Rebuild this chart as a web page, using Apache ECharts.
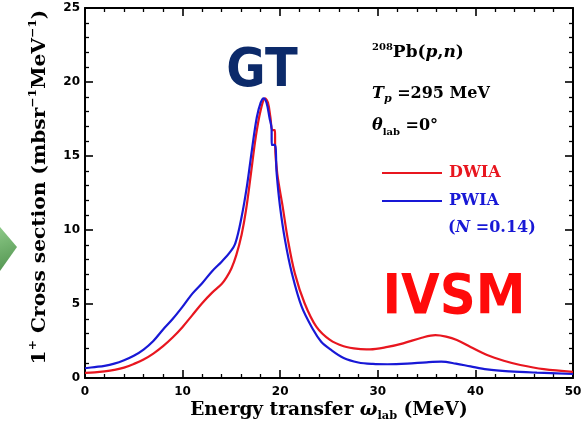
<!DOCTYPE html>
<html>
<head>
<meta charset="utf-8">
<script src="https://cdn.jsdelivr.net/npm/echarts@6/dist/echarts.min.js"></script>
<style>
  html, body { margin: 0; padding: 0; background: #ffffff; }
  #chart { width: 588px; height: 428px; }
</style>
</head>
<body>
<div id="chart"></div>
<script>
// 208Pb(p,n) 1+ cross section vs. energy transfer, DWIA vs. PWIA
const dwiaEnergy = [0, 1, 2, 3, 4, 5, 6, 7, 8, 9, 10, 11, 12, 13, 14, 14.5, 15, 15.5, 16.05, 16.5, 17.0, 17.5, 18.0, 18.45, 18.75, 19.0, 19.2, 19.47, 19.48, 19.7, 20.25, 20.8, 21.5, 22.5, 23.7, 25.1, 26.5, 28, 29.2, 31, 32.6, 34.5, 35.9, 37, 38.1, 39.5, 41.2, 43, 44.6, 47, 50];
const dwiaValue  = [0.34, 0.38, 0.45, 0.55, 0.7, 0.95, 1.25, 1.65, 2.15, 2.75, 3.45, 4.25, 5.05, 5.75, 6.35, 6.8, 7.4, 8.3, 9.7, 11.35, 13.8, 16.3, 18.1, 18.9, 18.6, 17.6, 16.75, 16.75, 15.7, 13.8, 11.6, 9.3, 7.07, 5.05, 3.47, 2.57, 2.15, 1.97, 1.94, 2.1, 2.34, 2.72, 2.9, 2.8, 2.57, 2.1, 1.55, 1.15, 0.88, 0.6, 0.42];

const pwiaEnergy = [0, 1, 2, 3, 4, 5, 6, 7, 8, 9, 10, 11, 12, 13, 14, 14.8, 15.4, 16.05, 16.6, 17.1, 17.6, 18.0, 18.3, 18.6, 18.9, 19.12, 19.13, 19.45, 19.64, 19.98, 20.5, 21.2, 22.2, 23.4, 24.2, 25.1, 26.5, 28, 29.5, 31, 33, 35, 36.5, 38, 39.5, 41.2, 43.5, 46.3, 50];
const pwiaValue  = [0.66, 0.74, 0.82, 0.97, 1.2, 1.5, 1.92, 2.5, 3.28, 4.0, 4.82, 5.7, 6.4, 7.2, 7.86, 8.45, 9.1, 10.9, 13.0, 15.4, 17.6, 18.6, 18.9, 18.6, 17.6, 16.8, 15.75, 15.75, 13.8, 11.6, 9.3, 7.07, 4.82, 3.24, 2.45, 1.95, 1.35, 1.05, 0.95, 0.93, 0.97, 1.06, 1.1, 0.97, 0.78, 0.58, 0.45, 0.36, 0.27];

const xTicks = [0, 10, 20, 30, 40, 50];
const yTicks = [0, 5, 10, 15, 20, 25];
const seriesNames = ['DWIA', 'PWIA'];
const seriesColors = ['#e8161f', '#1818d6'];

const zip = (xs, ys) => xs.map((x, i) => [x, ys[i]]);

const chart = echarts.init(document.getElementById('chart'), null, { renderer: 'canvas' });

const serif = '"DejaVu Serif", serif';
const sans = '"DejaVu Sans", sans-serif';

const frameAxis = (extra) => Object.assign({
  axisLine: { show: true, onZero: false, lineStyle: { color: '#000', width: 2 } },
  axisTick: { show: true, inside: true, length: 8, lineStyle: { color: '#000', width: 1.6 } },
  minorTick: { show: true, splitNumber: 5, length: 4, lineStyle: { color: '#000', width: 1.3 } },
  splitLine: { show: false },
  minorSplitLine: { show: false }
}, extra);

const option = {
  backgroundColor: '#ffffff',
  animation: false,
  grid: { left: 85, right: 15, top: 8, bottom: 50, containLabel: false },
  xAxis: [
    frameAxis({
      type: 'value', position: 'bottom', min: xTicks[0], max: xTicks[xTicks.length - 1], interval: 10,
      axisLabel: { show: true, margin: 8, color: '#000', fontFamily: sans, fontWeight: 'bold', fontSize: 12 }
    }),
    frameAxis({
      type: 'value', position: 'top', min: xTicks[0], max: xTicks[xTicks.length - 1], interval: 10,
      axisLabel: { show: false }
    })
  ],
  yAxis: [
    frameAxis({
      type: 'value', position: 'left', min: yTicks[0], max: yTicks[yTicks.length - 1], interval: 5,
      axisLabel: { show: true, margin: 5, color: '#000', fontFamily: sans, fontWeight: 'bold', fontSize: 12 }
    }),
    frameAxis({
      type: 'value', position: 'right', min: yTicks[0], max: yTicks[yTicks.length - 1], interval: 5,
      axisLabel: { show: false }
    })
  ],
  legend: {
    orient: 'vertical',
    left: 377,
    top: 159,
    itemWidth: 60,
    itemHeight: 2,
    itemGap: 10,
    icon: 'rect',
    textStyle: { fontFamily: serif, fontWeight: 'bold', fontSize: 16, lineHeight: 18, padding: [0, 0, 0, 2] },
    data: [
      { name: seriesNames[0], textStyle: { color: seriesColors[0] } },
      { name: seriesNames[1], textStyle: { color: seriesColors[1] } }
    ]
  },
  series: [
    {
      name: seriesNames[0], type: 'line', xAxisIndex: 0, yAxisIndex: 0,
      data: zip(dwiaEnergy, dwiaValue), showSymbol: false, symbol: 'none',
      smooth: 0.35,
      lineStyle: { color: seriesColors[0], width: 2.2 }, itemStyle: { color: seriesColors[0] }
    },
    {
      name: seriesNames[1], type: 'line', xAxisIndex: 0, yAxisIndex: 0,
      data: zip(pwiaEnergy, pwiaValue), showSymbol: false, symbol: 'none',
      smooth: 0.35,
      lineStyle: { color: seriesColors[1], width: 2.2 }, itemStyle: { color: seriesColors[1] }
    }
  ],
  graphic: [
    // green arrow tip at the left edge
    {
      type: 'polygon', z: 1,
      shape: { points: [[0, 227], [17, 247], [0, 271]] },
      style: {
        fill: new echarts.graphic.LinearGradient(0, 0, 1, 1, [
          { offset: 0, color: '#8cc987' }, { offset: 1, color: '#4f914d' }
        ])
      }
    },
    // y-axis title
    {
      type: 'text', x: 40, y: 187, rotation: Math.PI / 2, scaleX: 1.12,
      style: {
        text: '{m|1}{p|+}{m| Cross section (mbsr}{p|−1}{m|MeV}{p|−1}{m|)}',
        align: 'center', verticalAlign: 'middle', fill: '#000',
        rich: {
          m: { fontFamily: serif, fontWeight: 'bold', fontSize: 18, lineHeight: 24, fill: '#000' },
          p: { fontFamily: serif, fontWeight: 'bold', fontSize: 11, verticalAlign: 'top', fill: '#000' }
        }
      }
    },
    // x-axis title
    {
      type: 'text', x: 329, y: 410, scaleX: 1.03,
      style: {
        text: '{m|Energy transfer }{i|ω}{s|lab}{m| (MeV)}',
        align: 'center', verticalAlign: 'middle', fill: '#000',
        rich: {
          m: { fontFamily: serif, fontWeight: 'bold', fontSize: 18, lineHeight: 24, fill: '#000' },
          i: { fontFamily: serif, fontWeight: 'bold', fontStyle: 'italic', fontSize: 18, lineHeight: 24, fill: '#000' },
          s: { fontFamily: serif, fontWeight: 'bold', fontSize: 11, verticalAlign: 'bottom', fill: '#000' }
        }
      }
    },
    // reaction / kinematics annotations
    {
      type: 'text', x: 372, y: 53,
      style: {
        text: '{p|208}{m|Pb(}{i|p}{m|,}{i|n}{m|)}',
        align: 'left', verticalAlign: 'middle',
        rich: {
          m: { fontFamily: serif, fontWeight: 'bold', fontSize: 17, lineHeight: 22, fill: '#000' },
          i: { fontFamily: serif, fontWeight: 'bold', fontStyle: 'italic', fontSize: 17, lineHeight: 22, fill: '#000' },
          p: { fontFamily: serif, fontWeight: 'bold', fontSize: 10, verticalAlign: 'top', fill: '#000' }
        }
      }
    },
    {
      type: 'text', x: 372, y: 94,
      style: {
        text: '{i|T}{s|p}{m| =295 MeV}',
        align: 'left', verticalAlign: 'middle',
        rich: {
          m: { fontFamily: serif, fontWeight: 'bold', fontSize: 16, lineHeight: 22, fill: '#000' },
          i: { fontFamily: serif, fontWeight: 'bold', fontStyle: 'italic', fontSize: 16, lineHeight: 22, fill: '#000' },
          s: { fontFamily: serif, fontWeight: 'bold', fontStyle: 'italic', fontSize: 11, verticalAlign: 'bottom', fill: '#000' }
        }
      }
    },
    {
      type: 'text', x: 372, y: 126,
      style: {
        text: '{i|θ}{s|lab}{m| =0°}',
        align: 'left', verticalAlign: 'middle',
        rich: {
          m: { fontFamily: serif, fontWeight: 'bold', fontSize: 16, lineHeight: 22, fill: '#000' },
          i: { fontFamily: serif, fontWeight: 'bold', fontStyle: 'italic', fontSize: 16, lineHeight: 22, fill: '#000' },
          s: { fontFamily: serif, fontWeight: 'bold', fontSize: 10, verticalAlign: 'bottom', fill: '#000' }
        }
      }
    },
    {
      type: 'text', x: 448, y: 228,
      style: {
        text: '{m|(}{i|N}{m| =0.14)}',
        align: 'left', verticalAlign: 'middle',
        rich: {
          m: { fontFamily: serif, fontWeight: 'bold', fontSize: 16, fill: seriesColors[1] },
          i: { fontFamily: serif, fontWeight: 'bold', fontStyle: 'italic', fontSize: 16, fill: seriesColors[1] }
        }
      }
    },
    // resonance labels
    {
      type: 'text', x: 262, y: 72, scaleY: 1.1,
      style: {
        text: 'GT', align: 'center', verticalAlign: 'middle',
        fontFamily: sans, fontWeight: 'bold', fontSize: 48, fill: '#0c2a6a'
      }
    },
    {
      type: 'text', x: 454, y: 298, scaleY: 1.12,
      style: {
        text: 'IVSM', align: 'center', verticalAlign: 'middle',
        fontFamily: sans, fontWeight: 'bold', fontSize: 50, fill: '#ff0a0a'
      }
    }
  ]
};

chart.setOption(option);
</script>
</body>
</html>
